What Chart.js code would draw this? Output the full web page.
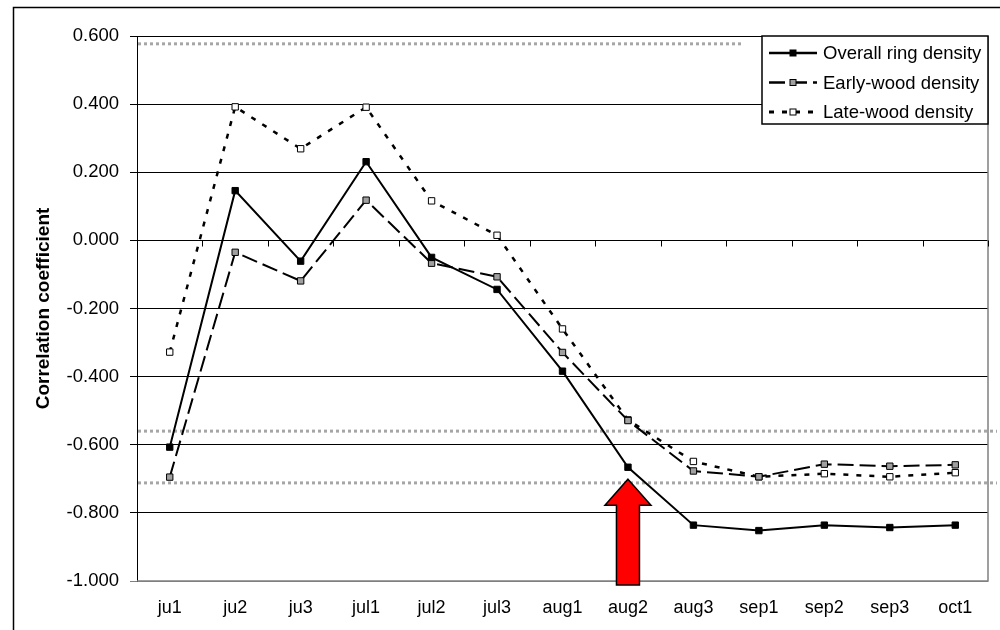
<!DOCTYPE html>
<html><head><meta charset="utf-8">
<script src="https://cdn.jsdelivr.net/npm/chart.js@4/dist/chart.umd.min.js"></script>
<style>html,body{margin:0;padding:0;background:#fff}#wrap{width:1000px;height:630px;position:relative}canvas{display:block}</style>
</head><body><div id="wrap"><canvas id="c" width="1000" height="630"></canvas></div>
<script>
const categories = ['ju1','ju2','ju3','jul1','jul2','jul3','aug1','aug2','aug3','sep1','sep2','sep3','oct1'];
const overallRing = [-0.607,0.146,-0.061,0.231,-0.050,-0.144,-0.384,-0.666,-0.836,-0.852,-0.836,-0.843,-0.836];
const earlyWood   = [-0.695,-0.035,-0.119,0.118,-0.067,-0.107,-0.329,-0.529,-0.677,-0.694,-0.657,-0.663,-0.659];
const lateWood    = [-0.328,0.392,0.269,0.391,0.116,0.015,-0.260,-0.527,-0.649,-0.694,-0.685,-0.694,-0.682];
const seriesNames = ['Overall ring density','Early-wood density','Late-wood density'];
const yAxisTitle = 'Correlation coefficient';
const yMin = -1.0, yMax = 0.6, yStep = 0.2;
const thresholdUpper = [0.577];
const thresholdLower = [-0.560, -0.712];
const arrowCategory = 'aug2';

const FONT = '"Liberation Sans", Arial, sans-serif';
Chart.defaults.font.family = FONT;
Chart.defaults.color = '#000';

const decor = {
  id: 'decor',
  beforeDraw(chart) {
    const ctx = chart.ctx;
    ctx.save();
    ctx.fillStyle = '#fff';
    ctx.fillRect(0, 0, chart.width, chart.height);
    ctx.strokeStyle = '#000';
    ctx.lineWidth = 1.5;
    ctx.strokeRect(13.5, 7.5, chart.width + 20, chart.height + 20);
    ctx.restore();
  },
  beforeDatasetsDraw(chart) {
    const ctx = chart.ctx, a = chart.chartArea;
    const ys = chart.scales.y;
    ctx.save();
    ctx.strokeStyle = '#808080';
    ctx.lineWidth = 1.5;
    ctx.beginPath();
    ctx.moveTo(a.right, a.top); ctx.lineTo(a.right, a.bottom); ctx.lineTo(a.left, a.bottom);
    ctx.stroke();
    const n = categories.length, w = (a.right - a.left) / n;
    const y0 = Math.round(ys.getPixelForValue(0)) + 0.5;
    ctx.strokeStyle = '#000';
    ctx.lineWidth = 1;
    ctx.beginPath();
    for (let i = 0; i <= n; i++) {
      const x = Math.round(a.left + i * w) + 0.5;
      ctx.moveTo(x, y0); ctx.lineTo(x, y0 + 6);
    }
    ctx.stroke();
    ctx.strokeStyle = '#a6a6a6';
    ctx.lineWidth = 3;
    ctx.setLineDash([3, 3]);
    const legendLeft = a.right - 226;
    thresholdUpper.forEach(v => {
      const y = ys.getPixelForValue(v);
      ctx.beginPath(); ctx.moveTo(a.left + 1, y); ctx.lineTo(legendLeft - 19, y); ctx.stroke();
    });
    thresholdLower.forEach(v => {
      const y = ys.getPixelForValue(v);
      ctx.beginPath(); ctx.moveTo(a.left + 1, y); ctx.lineTo(a.right + 9, y); ctx.stroke();
    });
    ctx.restore();
  },
  afterDatasetsDraw(chart) {
    const ctx = chart.ctx, a = chart.chartArea;
    const xs = chart.scales.x, ys = chart.scales.y;
    ctx.save();
    const idx = categories.indexOf(arrowCategory);
    const cx = xs.getPixelForValue(idx);
    const tip = ys.getPixelForValue(overallRing[idx]) + 12;
    const base = tip + 26, bottom = a.bottom + 4;
    ctx.beginPath();
    ctx.moveTo(cx, tip);
    ctx.lineTo(cx + 23, base);
    ctx.lineTo(cx + 11.5, base);
    ctx.lineTo(cx + 11.5, bottom);
    ctx.lineTo(cx - 11.5, bottom);
    ctx.lineTo(cx - 11.5, base);
    ctx.lineTo(cx - 23, base);
    ctx.closePath();
    ctx.fillStyle = '#ff0000';
    ctx.fill();
    ctx.strokeStyle = '#000';
    ctx.lineWidth = 1.5;
    ctx.lineJoin = 'miter';
    ctx.stroke();
    const bw = 226, bh = 88;
    const bx = a.right - bw, by = a.top;
    ctx.fillStyle = '#fff';
    ctx.fillRect(bx, by, bw, bh);
    ctx.strokeStyle = '#000';
    ctx.lineWidth = 1.5;
    ctx.strokeRect(bx, by, bw, bh);
    chart.data.datasets.forEach((ds, i) => {
      const y = by + 17 + i * 29.5;
      ctx.save();
      ctx.strokeStyle = ds.borderColor;
      ctx.lineWidth = ds.borderWidth + 0.5;
      ctx.setLineDash(ds.borderDash || []);
      ctx.beginPath(); ctx.moveTo(bx + 7, y); ctx.lineTo(bx + 55, y); ctx.stroke();
      ctx.setLineDash([]);
      ctx.fillStyle = ds.pointBackgroundColor;
      ctx.strokeStyle = '#000';
      ctx.lineWidth = 1;
      ctx.fillRect(bx + 28, y - 3, 6, 6);
      ctx.strokeRect(bx + 28, y - 3, 6, 6);
      ctx.restore();
      ctx.fillStyle = '#000';
      ctx.font = '18.5px ' + FONT;
      ctx.textBaseline = 'middle';
      ctx.textAlign = 'left';
      ctx.fillText(ds.label, bx + 61, y + 1);
    });
    ctx.restore();
  }
};

new Chart(document.getElementById('c'), {
  type: 'line',
  data: {
    labels: categories,
    datasets: [
      { label: seriesNames[0], data: overallRing, borderColor: '#000', borderWidth: 2,
        pointStyle: 'rect', pointRadius: 4.5, pointBackgroundColor: '#000', pointBorderColor: '#000', pointBorderWidth: 1 },
      { label: seriesNames[1], data: earlyWood, borderColor: '#000', borderWidth: 2, borderDash: [16, 6],
        pointStyle: 'rect', pointRadius: 4.5, pointBackgroundColor: '#a0a0a0', pointBorderColor: '#000', pointBorderWidth: 1 },
      { label: seriesNames[2], data: lateWood, borderColor: '#000', borderWidth: 2.5, borderDash: [5, 8],
        pointStyle: 'rect', pointRadius: 4.5, pointBackgroundColor: '#fff', pointBorderColor: '#000', pointBorderWidth: 1 }
    ]
  },
  options: {
    responsive: false,
    devicePixelRatio: 1,
    animation: false,
    layout: { padding: { left: 14, right: 12, top: 36, bottom: 0 } },
    plugins: { legend: { display: false }, tooltip: { enabled: false } },
    elements: { line: { tension: 0, borderCapStyle: 'butt' } },
    scales: {
      x: {
        type: 'category', offset: true,
        grid: { display: false, drawTicks: false },
        border: { display: false },
        ticks: { color: '#000', font: { size: 18 }, padding: 16, maxRotation: 0, autoSkip: false },
        afterFit(s) { s.height = 49; }
      },
      y: {
        min: yMin, max: yMax,
        ticks: { stepSize: yStep, color: '#000', font: { size: 18.5 }, padding: 11,
          callback: v => (Math.abs(v) < 1e-9 ? 0 : v).toFixed(3) },
        grid: { color: c => (c.tick && Math.abs(c.tick.value - yMin) < 1e-9 ? '#808080' : '#000'),
          lineWidth: 1, tickLength: 7, drawTicks: true },
        border: { display: true, color: '#000', width: 1 },
        title: { display: true, text: yAxisTitle, color: '#000',
          font: { size: 19, weight: 'bold' }, padding: { top: 18, bottom: 0 } },
        afterFit(s) { s.width = 123; }
      }
    }
  },
  plugins: [decor]
});
</script>
</body></html>
